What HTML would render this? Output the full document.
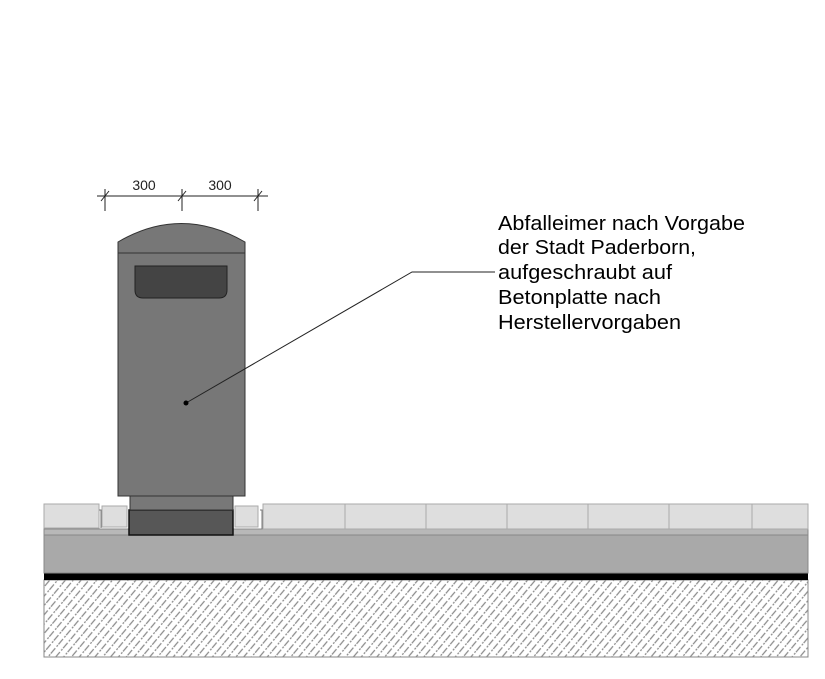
<!DOCTYPE html>
<html><head><meta charset="utf-8">
<style>html,body{margin:0;padding:0;background:#fff;}svg{display:block}</style>
</head><body>
<svg width="825" height="679" viewBox="0 0 825 679" xmlns="http://www.w3.org/2000/svg">
<defs>
<pattern id="h" patternUnits="userSpaceOnUse" width="12" height="6" patternTransform="rotate(-50)">
<line x1="0" y1="3" x2="12" y2="3" stroke="#8a8a8a" stroke-width="1.2" stroke-dasharray="7 2 2 1"/>
</pattern>
</defs>
<!-- ground -->
<rect x="44" y="580" width="764" height="77" fill="#fff" stroke="#888" stroke-width="1"/>
<rect x="44" y="580" width="764" height="77" fill="url(#h)"/>
<rect x="44" y="573" width="764" height="7" fill="#000"/>
<rect x="44" y="535" width="764" height="38" fill="#a9a9a9" stroke="#888" stroke-width="1"/>
<rect x="44" y="529" width="764" height="6" fill="#b8b8b8" stroke="#888" stroke-width="1"/>
<!-- pavers -->
<g fill="#dedede" stroke="#aaa" stroke-width="1">
<polygon points="44,504 99,504 99,528 44,528"/>
<polygon points="102,506 127,506 127,527 102,527"/>
<polygon points="235,506 258,506 258,527 235,527"/>
<rect x="263" y="504" width="82" height="25"/>
<rect x="345" y="504" width="81" height="25"/>
<rect x="426" y="504" width="81" height="25"/>
<rect x="507" y="504" width="81" height="25"/>
<rect x="588" y="504" width="81" height="25"/>
<rect x="669" y="504" width="83" height="25"/>
<rect x="752" y="504" width="56" height="25"/>
</g>
<path d="M99,510 L101,510 L101,528" stroke="#777" fill="none"/>
<path d="M260,510 L262,510 L262,529" stroke="#777" fill="none"/>
<!-- base -->
<rect x="129" y="510" width="104" height="25" fill="#575757" stroke="#111" stroke-width="1.5"/>
<rect x="130" y="496" width="103" height="14" fill="#787878" stroke="#333" stroke-width="1"/>
<!-- bin -->
<path d="M118,496 L118,242 Q181,205 245,242 L245,496 Z" fill="#777" stroke="#333" stroke-width="1"/>
<line x1="118" y1="253" x2="245" y2="253" stroke="#333" stroke-width="1"/>
<path d="M135,266 L227,266 L227,290 Q227,298 219,298 L143,298 Q135,298 135,290 Z" fill="#444" stroke="#222" stroke-width="1"/>
<!-- dims -->
<g stroke="#222" stroke-width="1">
<line x1="97" y1="196" x2="268" y2="196"/>
<line x1="105" y1="189" x2="105" y2="211"/>
<line x1="182" y1="189" x2="182" y2="211"/>
<line x1="258" y1="189" x2="258" y2="211"/>
<line x1="101" y1="201" x2="109" y2="191"/>
<line x1="178" y1="201" x2="186" y2="191"/>
<line x1="254" y1="201" x2="262" y2="191"/>
</g>
<g font-family="Liberation Sans, sans-serif" font-size="14" fill="#222" text-anchor="middle">
<text x="144" y="190">300</text><text x="220" y="190">300</text>
</g>
<!-- leader -->
<polyline points="186,403 412,272 495,272" fill="none" stroke="#222" stroke-width="1"/>
<circle cx="186" cy="403" r="2.5" fill="#000"/>
<g font-family="Liberation Sans, sans-serif" font-size="20" fill="#000">
<text x="498" y="230" textLength="247" lengthAdjust="spacingAndGlyphs">Abfalleimer nach Vorgabe</text>
<text x="498" y="254" textLength="198" lengthAdjust="spacingAndGlyphs">der Stadt Paderborn,</text>
<text x="498" y="279" textLength="174" lengthAdjust="spacingAndGlyphs">aufgeschraubt auf</text>
<text x="498" y="304" textLength="163" lengthAdjust="spacingAndGlyphs">Betonplatte nach</text>
<text x="498" y="329" textLength="183" lengthAdjust="spacingAndGlyphs">Herstellervorgaben</text>
</g>
</svg>
</body></html>
